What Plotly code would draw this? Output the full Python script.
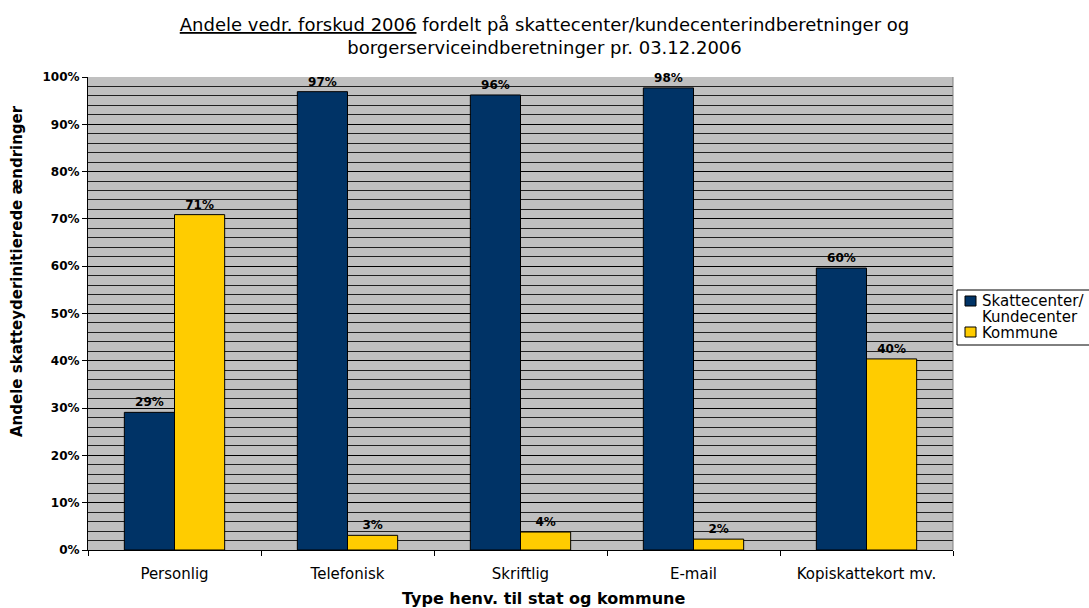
import plotly.graph_objects as go

categories = ["Personlig", "Telefonisk", "Skriftlig", "E-mail", "Kopiskattekort mv."]
skattecenter = [29.1, 96.9, 96.2, 97.7, 59.6]
kommune = [70.9, 3.1, 3.8, 2.3, 40.4]
series_names = ["Skattecenter/", "Kommune"]
tick_vals = [0, 10, 20, 30, 40, 50, 60, 70, 80, 90, 100]
tick_text = [f"{v}%" for v in tick_vals]

FONT = "DejaVu Sans, Liberation Sans, Arial, sans-serif"
BLUE = "#003366"
YELLOW = "#FFCC00"

fig = go.Figure()
fig.add_trace(go.Bar(
    x=categories, y=skattecenter, name=series_names[0],
    marker=dict(color=BLUE, line=dict(color="black", width=1)),
    text=[f"<b>{v:.0f}%</b>" for v in skattecenter], textposition="outside",
    textfont=dict(family=FONT, size=12, color="black"), cliponaxis=False,
))
fig.add_trace(go.Bar(
    x=categories, y=kommune, name=series_names[1],
    marker=dict(color=YELLOW, line=dict(color="black", width=1)),
    text=[f"<b>{v:.0f}%</b>" for v in kommune], textposition="outside",
    textfont=dict(family=FONT, size=12, color="black"), cliponaxis=False,
))

W, H = 1089, 608
L, R, T, B = 88, 136, 77, 58

fig.update_layout(
    width=W, height=H,
    margin=dict(l=L, r=R, t=T, b=B),
    paper_bgcolor="white",
    plot_bgcolor="#C0C0C0",
    barmode="group",
    bargap=0.42,
    bargroupgap=0,
    font=dict(family=FONT, color="black"),
    title=dict(
        text="<u>Andele vedr. forskud 2006</u> fordelt på skattecenter/kundecenterindberetninger og<br>borgerserviceindberetninger pr. 03.12.2006",
        x=0.5, xanchor="center", xref="container",
        y=1 - 31 / H, yanchor="middle", yref="container",
        font=dict(family=FONT, size=18, color="black"),
    ),
    showlegend=False,
    xaxis=dict(
        type="category",
        tickson="boundaries",
        ticks="outside", ticklen=5, tickcolor="black",
        showline=True, linecolor="black", linewidth=1,
        tickfont=dict(family=FONT, size=15, color="black"),
        ticklabelstandoff=10,
        showgrid=False,
    ),
    yaxis=dict(
        range=[0, 100],
        tickvals=tick_vals, ticktext=[f"<b>{t}</b>" for t in tick_text],
        ticks="outside", ticklen=5, tickcolor="black",
        showline=True, linecolor="black", linewidth=1,
        tickfont=dict(family=FONT, size=12, color="black"),
        showgrid=True, gridcolor="black", gridwidth=1,
        minor=dict(dtick=2, showgrid=True, gridcolor="#202020", gridwidth=1),
        zeroline=False,
    ),
)

# axis titles
fig.add_annotation(text="<b>Type henv. til stat og kommune</b>", xref="paper", yref="paper",
                   x=(543 - L) / (W - L - R), y=-(598 - (H - B)) / (H - T - B),
                   xanchor="center", yanchor="middle", showarrow=False,
                   font=dict(family=FONT, size=16, color="black"))
fig.add_annotation(text="<b>Andele skatteyderinitierede ændringer</b>", xref="paper", yref="paper",
                   x=-(L - 17) / (W - L - R), y=(H - B - 271) / (H - T - B),
                   xanchor="center", yanchor="middle", textangle=-90, showarrow=False,
                   font=dict(family=FONT, size=15, color="black"))

# right plot border
fig.add_shape(type="line", xref="paper", yref="paper", x0=1, x1=1, y0=0, y1=1,
              line=dict(color="#808080", width=1))

# custom legend (box, swatches, labels)
fig.add_shape(type="rect", xref="paper", yref="paper",
              x0=(957 - L) / (W - L - R), x1=(1100 - L) / (W - L - R),
              y0=(H - B - 345) / (H - T - B), y1=(H - B - 290) / (H - T - B),
              line=dict(color="black", width=1), fillcolor="white", layer="above")
for color, yc in [(BLUE, 301), (YELLOW, 332)]:
    fig.add_shape(type="rect", xref="paper", yref="paper",
                  x0=(965 - L) / (W - L - R), x1=(976 - L) / (W - L - R),
                  y0=(H - B - yc - 5) / (H - T - B), y1=(H - B - yc + 5) / (H - T - B),
                  line=dict(color="black", width=1), fillcolor=color, layer="above")
for txt, yc in [(series_names[0], 301), ("Kundecenter", 317), (series_names[1], 333)]:
    fig.add_annotation(text=txt, xref="paper", yref="paper",
                       x=(980 - L) / (W - L - R), y=(H - B - yc) / (H - T - B),
                       xanchor="left", yanchor="middle", showarrow=False,
                       font=dict(family=FONT, size=15, color="black"))

fig.write_html("out.html")
